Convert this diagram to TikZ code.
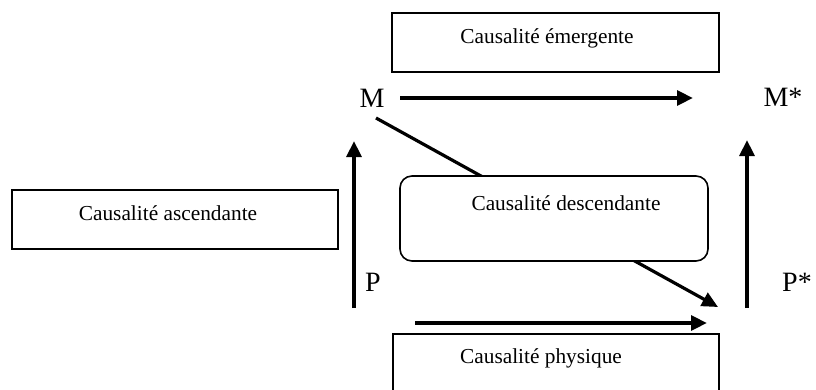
\documentclass[tikz,border=0pt]{standalone}
\usepackage{fontspec}
\setmainfont{Liberation Serif}
\usetikzlibrary{arrows.meta}
\tikzset{
  boxnode/.style={draw, line width=1.2pt, minimum width=#1, inner sep=0pt, fill=white},
  boxtext/.style={font=\fontsize{16}{19}\selectfont, inner sep=0pt},
  biglabel/.style={font=\fontsize{21}{25}\selectfont, inner sep=0pt},
  bigarrow/.style={line width=3pt, -{Triangle[length=12pt,width=11pt]}},
  diagarrow/.style={line width=2.4pt, -{Triangle[length=12pt,width=11pt]}},
}
\begin{document}
\begin{tikzpicture}[x=0.75pt,y=-0.75pt]
\useasboundingbox (0,0) rectangle (816,389);
% boxes
\node[boxnode=245.25pt, minimum height=44.25pt] (emer) at (555.5,42.5) {};
\node[boxtext] (emertext) at (547,38) {Causalité émergente};
\node[boxnode=244.5pt, minimum height=44.25pt] (asc) at (175,219.5) {};
\node[boxtext] (asctext) at (168,213) {Causalité ascendante};
% labels
\node[biglabel] (M) at (372,98) {M};
\node[biglabel] (Ms) at (783,97) {M*};
\node[biglabel] (P) at (373,282) {P};
\node[biglabel] (Ps) at (797,282) {P*};
% arrow ends
\coordinate (m1) at (400,98);
\coordinate (m2) at (693,98);
\coordinate (l1) at (354,308);
\coordinate (l2) at (354,141);
\coordinate (r1) at (747,308);
\coordinate (r2) at (747,140);
\coordinate (d1) at (376,118);
\coordinate (d2) at (718,307);
\coordinate (b1) at (415,323);
\coordinate (b2) at (707,323);
\draw[bigarrow] (m1) -- (m2);
\draw[bigarrow] (l1) -- (l2);
\draw[bigarrow] (r1) -- (r2);
\draw[diagarrow] (d1) -- (d2);
\draw[bigarrow] (b1) -- (b2);
% rounded box on top of diagonal
\node[boxnode=231pt, minimum height=63.75pt, rounded corners=9pt] (desc) at (554,218.5) {};
\node[boxtext] (desctext) at (566,203) {Causalité descendante};
% physique box (extends below the picture)
\node[boxnode=244.5pt, minimum height=52.5pt] (phys) at (556,369) {};
\node[boxtext] (phystext) at (541,358) {Causalité physique};
\end{tikzpicture}
\end{document}
